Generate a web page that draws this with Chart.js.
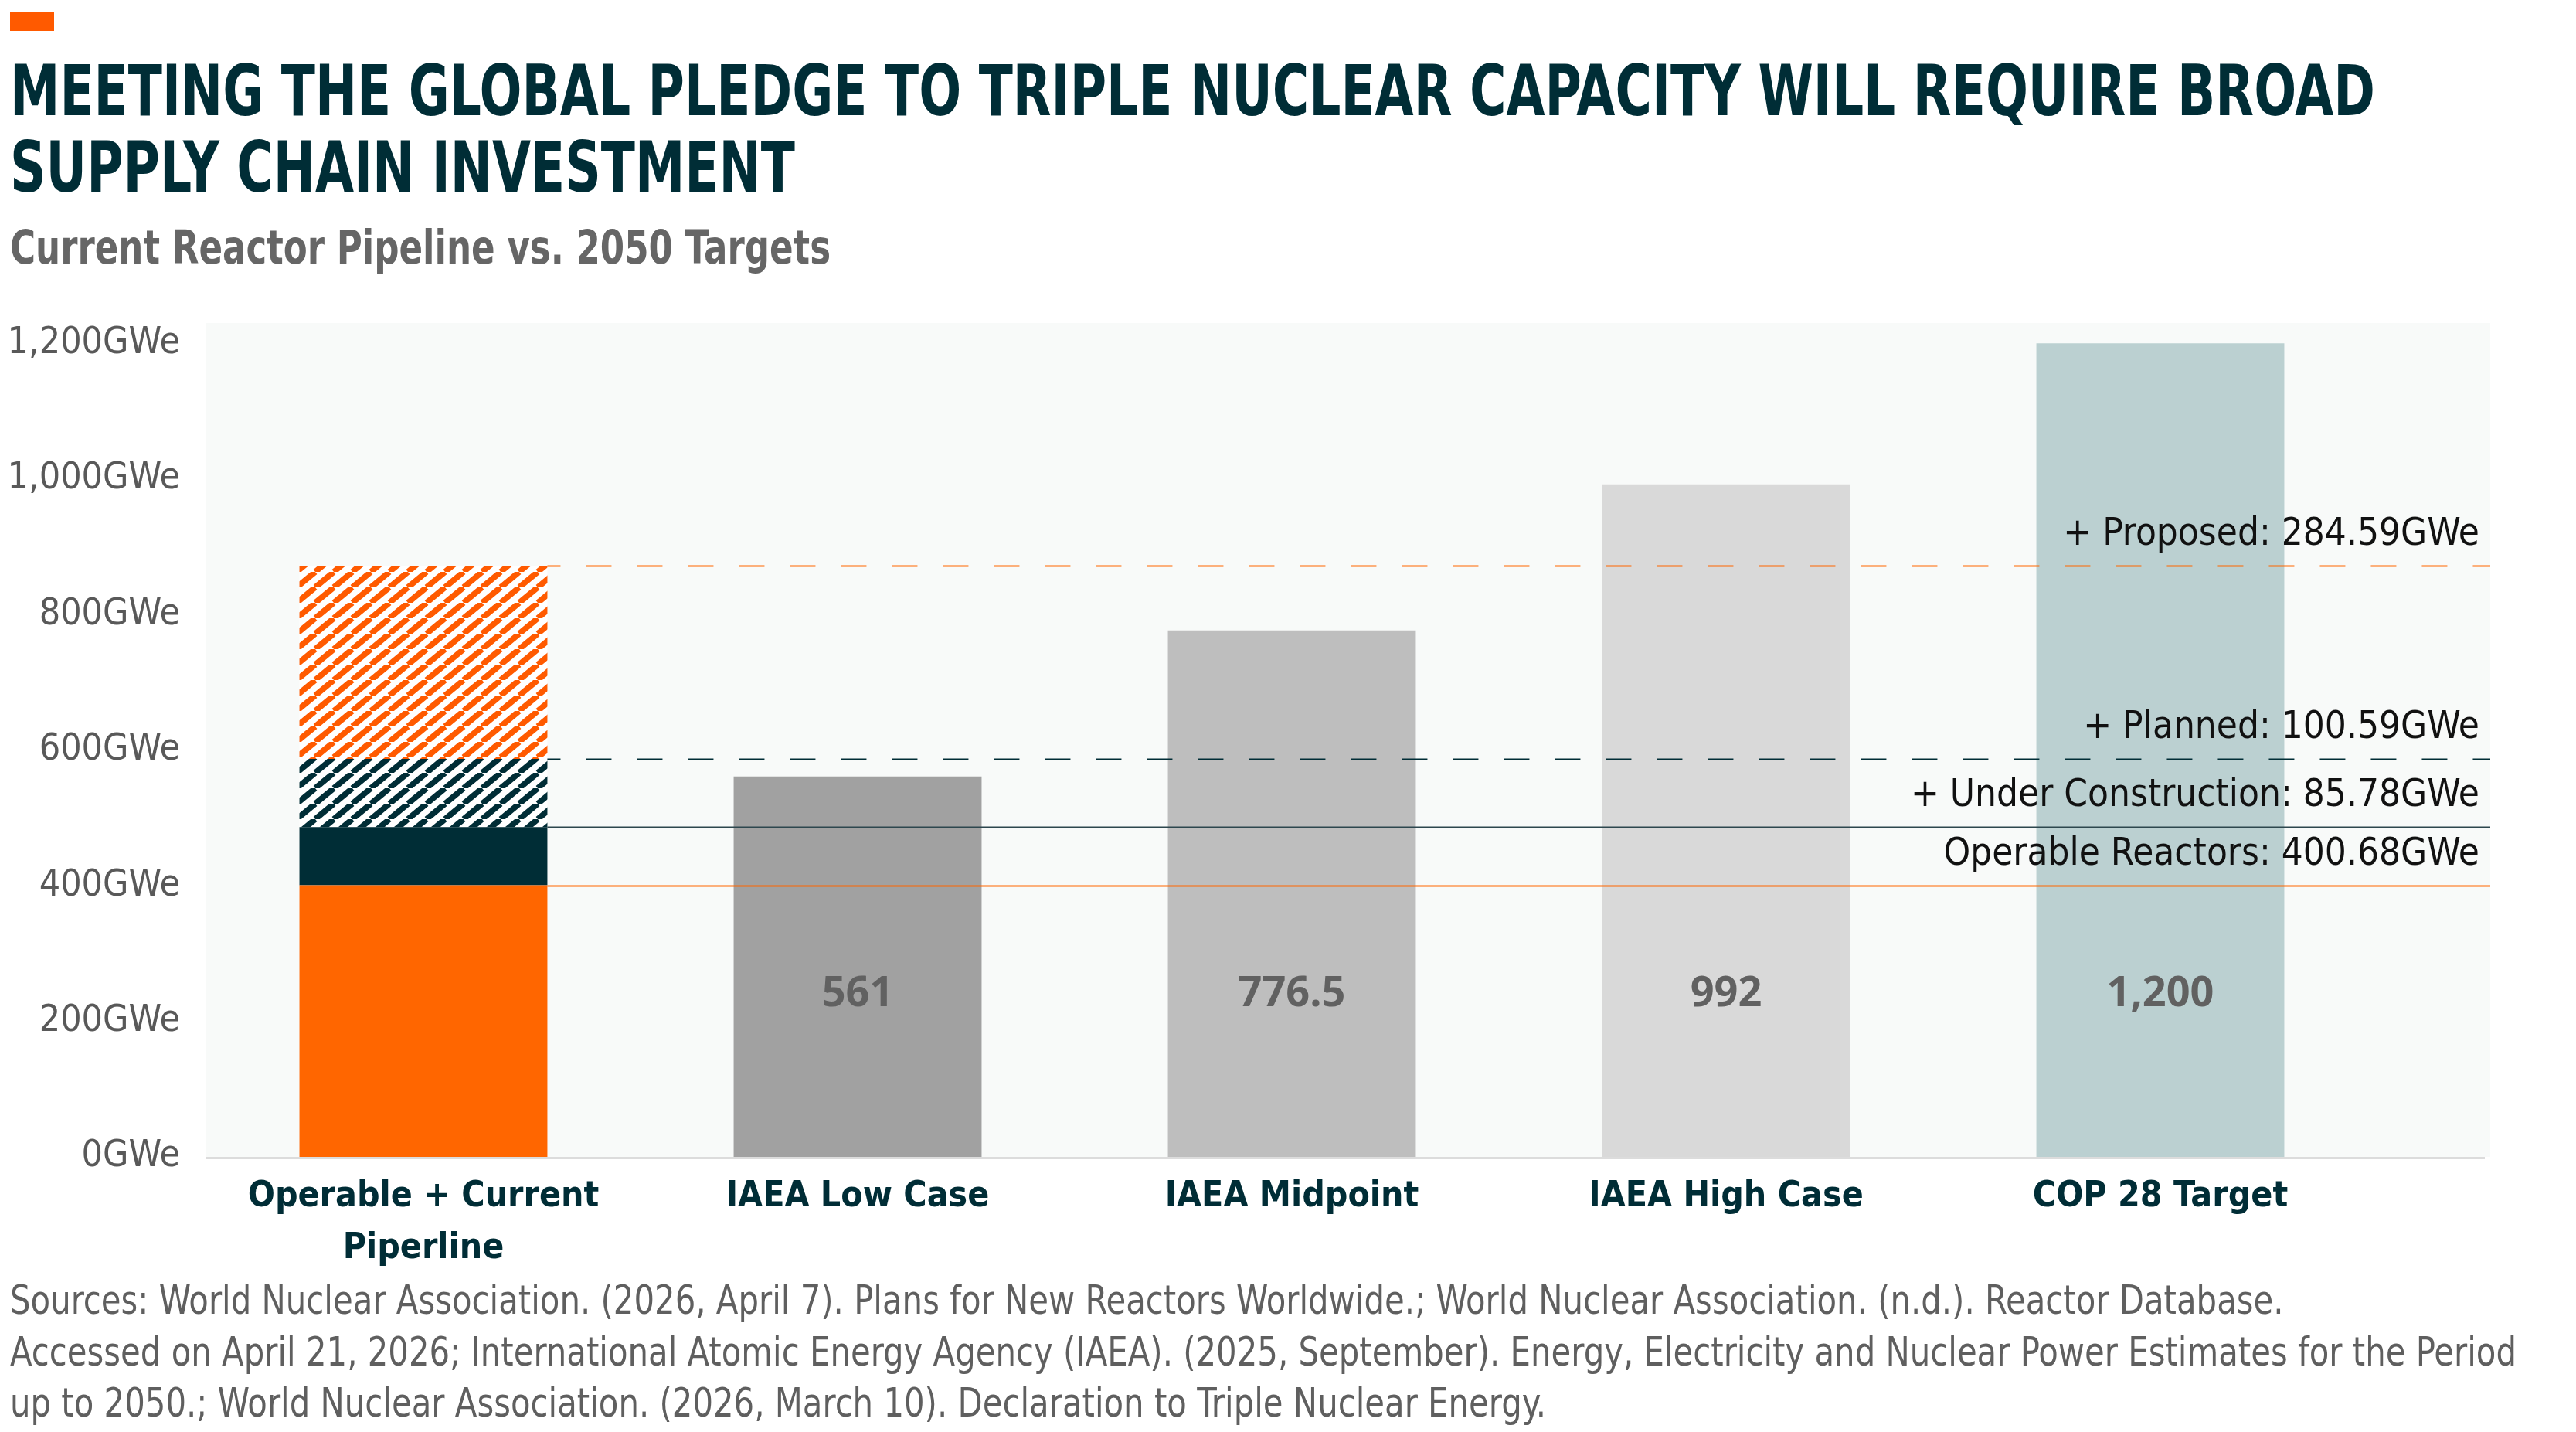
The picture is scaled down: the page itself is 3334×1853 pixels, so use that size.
<!DOCTYPE html>
<html>
<head>
<meta charset="utf-8">
<script src="https://cdn.jsdelivr.net/npm/chart.js@4.4.1/dist/chart.umd.min.js"></script>
<style>
  html, body { margin: 0; padding: 0; background: #fff; }
  #page { position: relative; width: 3334px; height: 1853px; overflow: hidden; }
  .txt { position: absolute; left: 13px; white-space: nowrap; transform-origin: left top; }
  .txt span { display: inline-block; }
  #mark { position: absolute; left: 13px; top: 15px; width: 57px; height: 25px; background: #ff5a00; }
  #title { top: 68px; font-size: 90px; line-height: 99px; font-weight: bold; color: #002d36; }
  #subtitle { top: 290px; font-size: 60px; line-height: 60px; font-weight: bold; color: #666; }
  #sources { top: 1649px; font-size: 52px; line-height: 66.5px; color: #5f5f5f; }
  #chart { position: absolute; left: 0; top: 340px; }
</style>
</head>
<body>
<div id="page">
  <div id="mark"></div>
  <div id="title" class="txt"><span>MEETING THE GLOBAL PLEDGE TO TRIPLE NUCLEAR CAPACITY WILL REQUIRE BROAD</span><br><span>SUPPLY CHAIN INVESTMENT</span></div>
  <div id="subtitle" class="txt"><span>Current Reactor Pipeline vs. 2050 Targets</span></div>
  <canvas id="chart" width="3334" height="1310"></canvas>
  <div id="sources" class="txt"><span>Sources: World Nuclear Association. (2026, April 7). Plans for New Reactors Worldwide.; World Nuclear Association. (n.d.). Reactor Database.</span><br><span id="src2">Accessed on April 21, 2026; International Atomic Energy Agency (IAEA). (2025, September). Energy, Electricity and Nuclear Power Estimates for the Period</span><br><span>up to 2050.; World Nuclear Association. (2026, March 10). Declaration to Triple Nuclear Energy.</span></div>
</div>
<script>
// data
const categories = [['Operable + Current', 'Piperline'], 'IAEA Low Case', 'IAEA Midpoint', 'IAEA High Case', 'COP 28 Target'];
const operable = [400.68, null, null, null, null];
const underConstruction = [85.78, null, null, null, null];
const planned = [100.59, null, null, null, null];
const proposed = [284.59, null, null, null, null];
const targets2050 = [null, 561, 776.5, 992, 1200];
const targetLabels = ['', '561', '776.5', '992', '1,200'];
const pipelineLabels = ['Operable Reactors: 400.68GWe', '+ Under Construction: 85.78GWe', '+ Planned: 100.59GWe', '+ Proposed: 284.59GWe'];
const yTicks = [0, 200, 400, 600, 800, 1000, 1200];

const ORANGE = '#ff6600';
const TEAL = '#002d36';
const targetColors = ['#000', '#a1a1a1', '#bebebe', '#d9d9d9', '#bbd0d1'];

// pick a narrow font that is installed
function hasFont(f) {
  const c = document.createElement('canvas').getContext('2d');
  const s = 'abcdefghijklmnopqrstuvwxyz0123456789ABCDEFG';
  c.font = '40px monospace';
  const a = c.measureText(s).width;
  c.font = `40px "${f}", monospace`;
  return c.measureText(s).width !== a;
}
const NARROW = ['Liberation Sans Narrow', 'DejaVu Sans Condensed', 'Roboto'].find(hasFont) || 'sans-serif';
document.querySelectorAll('.txt').forEach(el => el.style.fontFamily = `"${NARROW}", sans-serif`);

function fitWidth(el, target) {
  const w = el.querySelector('span').getBoundingClientRect().width;
  el.style.transform = `scaleX(${target / w})`;
}
fitWidth(document.getElementById('title'), 3061);
fitWidth(document.getElementById('subtitle'), 1062);
(function () {
  const el = document.getElementById('sources');
  const w = document.getElementById('src2').getBoundingClientRect().width;
  el.style.transform = `scaleX(${3244 / w})`;
})();

// "/" stripes on white
function hatch(color) {
  const w = 24, h = 20;
  const c = document.createElement('canvas');
  c.width = w;
  c.height = h;
  const g = c.getContext('2d');
  g.fillStyle = '#fff';
  g.fillRect(0, 0, w, h);
  g.strokeStyle = color;
  g.lineWidth = 7.5;
  g.beginPath();
  for (let k = -1; k <= 1; k++) {
    g.moveTo(k * w, h);
    g.lineTo(k * w + w, 0);
  }
  g.stroke();
  return g.createPattern(c, 'repeat');
}

const plotExtra = 146; // plot background runs past the last category

const plotBackground = {
  id: 'plotBackground',
  beforeDraw(chart) {
    const { ctx, chartArea: a } = chart;
    ctx.save();
    ctx.fillStyle = '#f8faf9';
    ctx.fillRect(a.left, a.top, a.right + plotExtra - a.left, a.bottom - a.top);
    ctx.fillStyle = '#dcdcdc';
    ctx.fillRect(a.left, a.bottom, a.right + plotExtra - 7 - a.left, 3);
    ctx.restore();
  }
};

const pipelineLines = {
  id: 'pipelineLines',
  afterDatasetsDraw(chart) {
    const { ctx, chartArea: a } = chart;
    const y = chart.scales.y;
    const bar = chart.getDatasetMeta(0).data[0];
    const x0 = bar.x + bar.width / 2;
    const x1 = a.right + plotExtra;
    const parts = [operable[0], underConstruction[0], planned[0], proposed[0]];
    const styles = [
      { color: ORANGE, dash: [] },
      { color: '#2d474e', dash: [] },
      { color: TEAL, dash: [33, 33] },
      { color: ORANGE, dash: [33, 33] }
    ];
    let cum = 0;
    ctx.save();
    parts.forEach((v, i) => {
      cum += v;
      const py = Math.round(y.getPixelForValue(cum)) + 0.5;
      ctx.strokeStyle = styles[i].color;
      ctx.lineWidth = 2;
      ctx.setLineDash(styles[i].dash);
      ctx.lineDashOffset = 16;
      ctx.beginPath();
      ctx.moveTo(x0, py);
      ctx.lineTo(x1, py);
      ctx.stroke();
      ctx.fillStyle = '#111';
      ctx.font = `49px "${NARROW}"`;
      ctx.textAlign = 'right';
      ctx.textBaseline = 'alphabetic';
      ctx.fillText(pipelineLabels[i], x1 - 14, py - 28);
    });
    // values inside the target bars
    const meta = chart.getDatasetMeta(4);
    ctx.font = 'bold 54px "Open Sans"';
    ctx.fillStyle = '#616161';
    ctx.textAlign = 'center';
    ctx.textBaseline = 'middle';
    meta.data.forEach((b, i) => {
      if (targetLabels[i]) ctx.fillText(targetLabels[i], b.x, y.getPixelForValue(240));
    });
    ctx.restore();
  }
};

new Chart(document.getElementById('chart'), {
  type: 'bar',
  data: {
    labels: categories,
    datasets: [
      { label: 'Operable Reactors', data: operable, backgroundColor: ORANGE },
      { label: 'Under Construction', data: underConstruction, backgroundColor: TEAL },
      { label: 'Planned', data: planned, backgroundColor: hatch(TEAL) },
      { label: 'Proposed', data: proposed, backgroundColor: hatch('#ff5a00') },
      { label: '2050 Targets', data: targets2050, backgroundColor: targetColors }
    ]
  },
  options: {
    responsive: false,
    animation: false,
    devicePixelRatio: 1,
    barPercentage: 0.571,
    categoryPercentage: 1,
    layout: { padding: { left: 13, right: 257, top: 78, bottom: 0 } },
    plugins: { legend: { display: false }, tooltip: { enabled: false } },
    scales: {
      x: {
        stacked: true,
        grid: { display: false, drawTicks: false },
        border: { display: false },
        ticks: {
          color: TEAL,
          font: { family: NARROW, size: 46, weight: 'bold', lineHeight: 1.47 },
          padding: 18,
          maxRotation: 0,
          autoSkip: false
        },
        afterFit: s => { s.height = 153; s.paddingLeft = 0; s.paddingRight = 0; }
      },
      y: {
        stacked: true,
        min: 0,
        max: 1230,
        grid: { display: false, drawTicks: false },
        border: { display: false },
        afterBuildTicks: s => { s.ticks = yTicks.map(v => ({ value: v })); },
        ticks: {
          color: '#595959',
          font: { family: NARROW, size: 48 },
          padding: 34,
          callback: v => v.toLocaleString('en-US') + 'GWe'
        },
        afterFit: s => { s.width = 254; s.paddingTop = 0; s.paddingBottom = 0; }
      }
    }
  },
  plugins: [plotBackground, pipelineLines]
});
</script>
</body>
</html>
